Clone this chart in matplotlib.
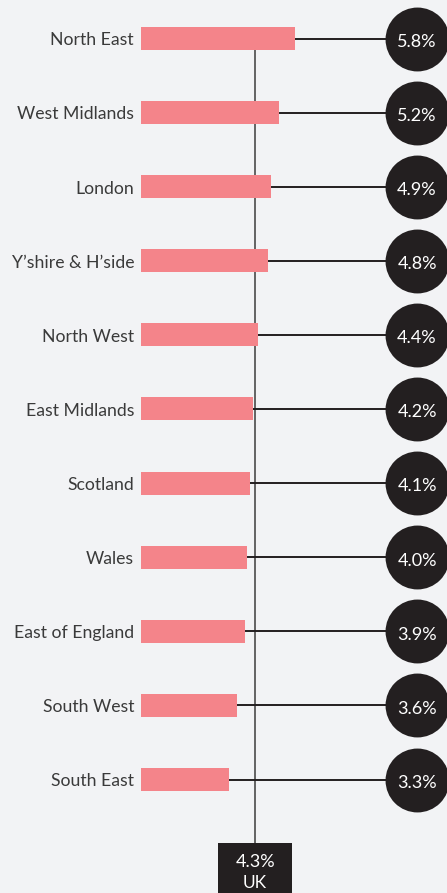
import matplotlib.pyplot as plt
from matplotlib.patches import Rectangle

plt.rcParams['font.family'] = ['Lato', 'DejaVu Sans']

regions = ['North East', 'West Midlands', 'London', 'Y\u2019shire & H\u2019side', 'North West',
           'East Midlands', 'Scotland', 'Wales', 'East of England', 'South West', 'South East']
rates = [5.8, 5.2, 4.9, 4.8, 4.4, 4.2, 4.1, 4.0, 3.9, 3.6, 3.3]
uk_rate = 4.3

bg = '#F2F3F5'
bar_color = '#F4848A'
dark = '#231F20'

fig = plt.figure(figsize=(4.47, 8.93), dpi=100)
fig.patch.set_facecolor(bg)
ax = fig.add_axes([0, 0, 1, 1])
ax.set_facecolor(bg)

# pixel layout: bars start at x=141, 26.55 px per %, rows 74.1 px apart
px_per = 26.55
ax.set_xlim(-141 / px_per, (447 - 141) / px_per)
ax.set_ylim((893 - 38.5) / 74.1, -38.5 / 74.1)
ax.axis('off')

ys = list(range(len(regions)))
circle_x = (417 - 141) / px_per

# UK reference line
ax.vlines(uk_rate, -0.15, 11, color='#4a4a4a', linewidth=1.2, zorder=1)

ax.hlines(ys, rates, circle_x, color=dark, linewidth=1.4, zorder=2)
ax.barh(ys, rates, height=23 / 74.1, color=bar_color, zorder=3)
ax.scatter([circle_x] * len(ys), ys, s=46 ** 2, color=dark, zorder=4, linewidths=0)

for y, name, r in zip(ys, regions, rates):
    ax.annotate(name, xy=(0, y + 0.025), xytext=(-5, 0), textcoords='offset points',
                ha='right', va='center', fontsize=12.7, color='#3a3a3a')
    ax.text(circle_x, y + 0.045, f'{r:.1f}%', ha='center', va='center',
            fontsize=13, color='white', zorder=5)

# UK box at the bottom
box_w = 74 / px_per
box_top = (843 - 38.5) / 74.1
ax.add_patch(Rectangle((uk_rate - box_w / 2, box_top), box_w, 1.0,
                       facecolor=dark, edgecolor='none', zorder=4))
ax.text(uk_rate, (862 - 38.5) / 74.1, f'{uk_rate:.1f}%', ha='center', va='center',
        fontsize=13, color='white', zorder=5)
ax.text(uk_rate, (883 - 38.5) / 74.1, 'UK', ha='center', va='center',
        fontsize=12.5, color='white', zorder=5)

fig.savefig('out.png', dpi=100, facecolor=bg)
